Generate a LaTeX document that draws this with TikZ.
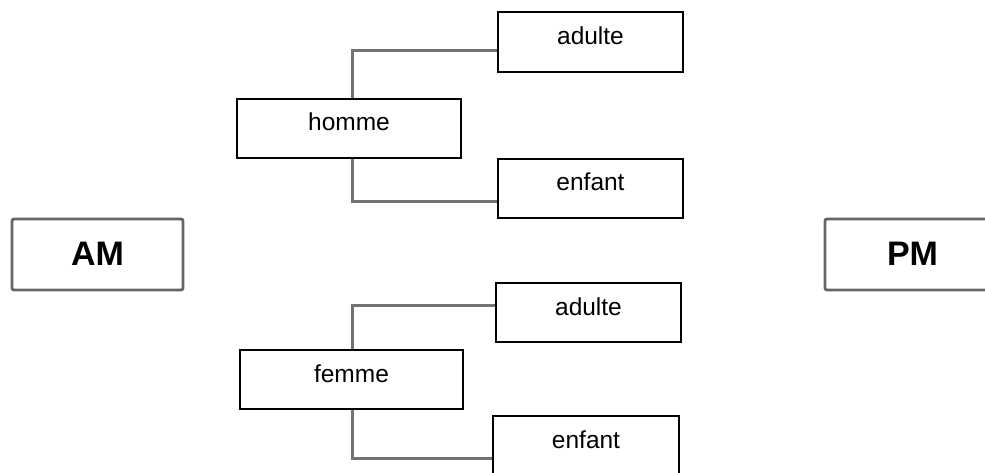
\documentclass[tikz,border=0pt]{standalone}
\usepackage{fontspec}
\setmainfont{Liberation Sans}
\begin{document}
\begin{tikzpicture}[x=1pt,y=-1pt,
  box/.style={draw=black, line width=1.3pt, fill=white, inner sep=0pt,
    text height=5pt, text depth=0pt, font=\fontsize{24.5}{28}\selectfont},
  bigbox/.style={draw=black!60, line width=2.8pt, rounded corners=2pt, fill=white, inner sep=0pt,
    text height=21pt, text depth=0pt, font=\fontsize{34}{38}\selectfont\bfseries},
  conn/.style={draw=black!55, line width=3pt}]
\useasboundingbox (0,0) rectangle (985,473);
\clip (0,0) rectangle (985,473);
% nodes
\node[box, minimum width=185pt, minimum height=60pt] (adT) at (590.5,42) {adulte};
\node[box, minimum width=224pt, minimum height=59pt] (homme) at (349,128.5) {homme};
\node[box, minimum width=185pt, minimum height=59pt] (enT) at (590.5,188.5) {enfant};
\node[bigbox, minimum width=171pt, minimum height=71pt] (AM) at (97.5,254.5) {AM};
\node[bigbox, minimum width=175pt, minimum height=71pt] (PM) at (912.5,254.5) {PM};
\node[box, minimum width=185pt, minimum height=59pt] (adB) at (588.5,312.5) {adulte};
\node[box, minimum width=223pt, minimum height=59pt] (femme) at (351.5,379.5) {femme};
\node[box, minimum width=186pt, minimum height=59pt] (enB) at (586,445.5) {enfant};
% connectors
\draw[conn] ([xshift=3pt]homme.north) |- ([yshift=-9pt]adT.west);
\draw[conn] ([xshift=3pt]homme.south) |- ([yshift=-13.5pt]enT.west);
\draw[conn] ([xshift=0.5pt]femme.north) |- ([yshift=7.5pt]adB.west);
\draw[conn] ([xshift=0.5pt]femme.south) |- ([yshift=-12.5pt]enB.west);
\end{tikzpicture}
\end{document}
